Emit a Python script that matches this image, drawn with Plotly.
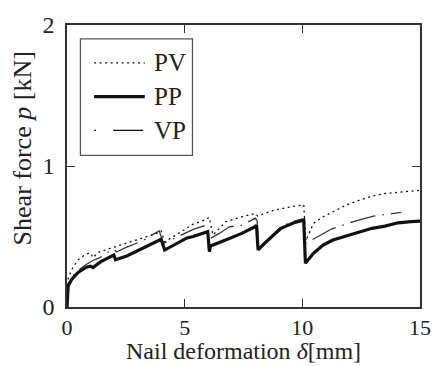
import plotly.graph_objects as go

# ---- data ----
pv_x = [0, 0.02, 0.05, 0.19, 0.47, 0.75, 0.96, 1.05, 1.1, 1.35, 1.85, 2.54, 3.23, 3.78, 4.0, 4.15,
        4.63, 5.1, 5.36, 5.85, 6.05, 6.2, 6.74, 7.43, 8.0, 8.1, 8.8, 9.5, 9.99, 10.06, 10.15,
        10.47, 10.89, 11.3, 11.85, 12.41, 12.96, 13.51, 14.07, 14.62, 15.0]
pv_y = [0, 0.15, 0.2, 0.263, 0.334, 0.369, 0.385, 0.37, 0.35, 0.39, 0.416, 0.45, 0.487, 0.52, 0.54, 0.463,
        0.51, 0.557, 0.588, 0.616, 0.635, 0.51, 0.604, 0.64, 0.663, 0.645, 0.687, 0.71, 0.72, 0.725, 0.47,
        0.593, 0.64, 0.675, 0.722, 0.757, 0.786, 0.805, 0.812, 0.821, 0.828]

pp_x = [0, 0.02, 0.05, 0.19, 0.47, 0.82, 1.0, 1.1, 1.44, 1.99, 2.06, 2.54, 3.23, 3.92, 4.0, 4.15,
        4.56, 5.1, 5.36, 5.98, 6.05, 6.1, 6.74, 7.43, 7.99, 8.05, 8.12, 8.4, 9.09, 9.64, 10.06,
        10.13, 10.47, 10.89, 11.3, 11.85, 12.41, 12.96, 13.51, 14.07, 14.62, 15.0]
pp_y = [0, 0.13, 0.15, 0.193, 0.245, 0.282, 0.29, 0.28, 0.322, 0.369, 0.335, 0.362, 0.416, 0.47, 0.48, 0.404,
        0.44, 0.49, 0.5, 0.534, 0.393, 0.433, 0.475, 0.522, 0.569, 0.58, 0.405, 0.452, 0.558, 0.597, 0.616,
        0.31, 0.381, 0.44, 0.475, 0.503, 0.534, 0.558, 0.574, 0.597, 0.605, 0.609]

vp_x = [0, 0.02, 0.05, 0.19, 0.47, 0.8, 1.1, 1.4, 1.85, 2.0, 2.1, 2.54, 3.23, 3.6, 3.92, 4.1,
        4.63, 5.1, 5.36, 5.9, 6.1, 6.45, 6.9, 7.43, 7.85, 8.0, 8.08, 8.15, 8.45, 9.09, 9.64, 10.03, 10.15,
        10.68, 11.24, 12.28, 13.03, 14.2]
vp_y = [0, 0.13, 0.16, 0.21, 0.26, 0.3, 0.33, 0.35, 0.40, 0.41, 0.39, 0.425, 0.47, 0.51, 0.54, 0.45,
        0.49, 0.53, 0.55, 0.58, 0.487, 0.52, 0.569, 0.58, 0.615, 0.63, 0.61, 0.42, 0.465, 0.57, 0.608, 0.625, 0.452,
        0.503, 0.553, 0.611, 0.645, 0.671]

series_names = ["PV", "PP", "VP"]
x_ticks = [0, 5, 10, 15]
y_ticks = [0, 1, 2]

FONT = "Liberation Serif"
INK = "#111111"
TXT = "#222222"
VP_DASH = "26px,7px,1.5px,7px"
PV_DASH = "2px,3.5px"

fig = go.Figure()
fig.add_trace(go.Scatter(x=pv_x, y=pv_y, mode="lines", name="PV",
                         line=dict(color=INK, width=1.3, dash=PV_DASH)))
fig.add_trace(go.Scatter(x=vp_x, y=vp_y, mode="lines", name="VP",
                         line=dict(color="#333333", width=1.3, dash=VP_DASH)))
fig.add_trace(go.Scatter(x=pp_x, y=pp_y, mode="lines", name="PP",
                         line=dict(color=INK, width=3.2)))

axis_common = dict(showline=True, linecolor="#333333", linewidth=1.5, mirror="ticks",
                   ticks="inside", ticklen=8, tickwidth=1.3, tickcolor="#333333",
                   showgrid=False, zeroline=False)

fig.update_xaxes(range=[0, 15], tickvals=x_ticks, ticktext=[str(v) for v in x_ticks],
                 tickfont=dict(family=FONT, size=22, color=TXT), **axis_common)
fig.update_yaxes(range=[0, 2], tickvals=y_ticks, ticktext=[str(v) for v in y_ticks],
                 tickfont=dict(family=FONT, size=24, color=TXT),
                 ticklabelstandoff=6, **axis_common)

# legend box drawn manually to match the long sample lines
L, R, T, B = 0.038, 0.3555, 0.9506, 0.5376
fig.add_shape(type="rect", xref="paper", yref="paper", x0=L, x1=R, y0=B, y1=T,
              line=dict(color="#555555", width=1.3), fillcolor="white", layer="above")
leg_styles = [dict(width=1.3, dash=PV_DASH), dict(width=3.2, dash="solid"), dict(width=1.3, dash="2px,17px,30px,10px")]
leg_y = [0.866, 0.746, 0.626]
for name, st, yy in zip(series_names, leg_styles, leg_y):
    fig.add_shape(type="line", xref="paper", yref="paper", x0=0.0768, x1=0.2204, y0=yy, y1=yy,
                  line=dict(color=INK, **st), layer="above")
    fig.add_annotation(xref="paper", yref="paper", x=0.2395, y=yy, text=name, showarrow=False,
                       xanchor="left", yanchor="middle", font=dict(family=FONT, size=25, color=TXT))

# axis titles
fig.add_annotation(xref="paper", yref="paper", x=0.5, y=-0.21, text="Nail deformation <i>δ</i>[mm]",
                   showarrow=False, xanchor="center", yanchor="bottom",
                   font=dict(family=FONT, size=24, color=TXT))
fig.add_annotation(xref="paper", yref="paper", x=-0.125, y=0.562, text="Shear force <i>p</i> [kN]",
                   showarrow=False, xanchor="center", yanchor="middle", textangle=-90,
                   font=dict(family=FONT, size=26, color=TXT))

fig.update_layout(width=443, height=366, margin=dict(l=67, r=14, t=24, b=59),
                  paper_bgcolor="white", plot_bgcolor="white", showlegend=False,
                  font=dict(family=FONT))

fig.write_html("out.html")
